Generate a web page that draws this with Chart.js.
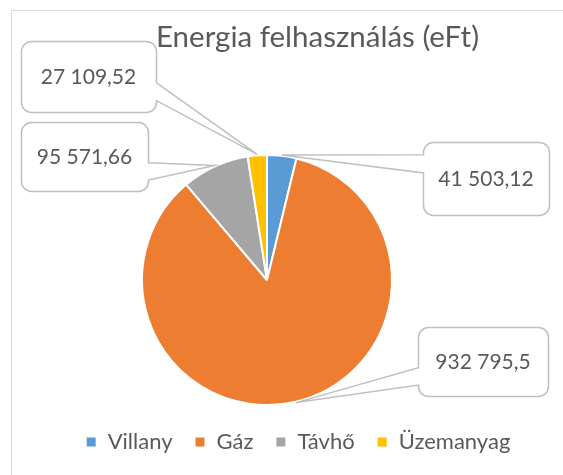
<!DOCTYPE html>
<html>
<head>
<meta charset="utf-8">
<script src="https://cdn.jsdelivr.net/npm/chart.js@4"></script>
<style>
  html, body { margin: 0; padding: 0; background: #fff; overflow: hidden; }
</style>
</head>
<body>
<canvas id="energia" width="563" height="475"></canvas>
<script>
const chartTitle = 'Energia felhasználás (eFt)';
const categories = ['Villany', 'Gáz', 'Távhő', 'Üzemanyag'];
const values = [41503.12, 932795.5, 95571.66, 27109.52];
const colors = ['#5B9BD5', '#ED7D31', '#A5A5A5', '#FFC000'];

// label boxes (Excel callouts moved by hand), x/y/w/h in px
const calloutBoxes = [
  [423, 142, 126, 73],
  [418, 327, 130, 69],
  [21, 122, 127, 69],
  [21, 41, 135, 71],
];

const FONT = 'Lato';
const textColor = '#595959';

function fmtHu(v) {
  const parts = String(v).split('.');
  const intPart = parts[0].replace(/\B(?=(\d{3})+(?!\d))/g, ' ');
  return parts.length > 1 ? intPart + ',' + parts[1] : intPart;
}

const frame = {
  id: 'frame',
  beforeDraw(chart) {
    const ctx = chart.ctx;
    ctx.save();
    ctx.strokeStyle = '#D9D9D9';
    ctx.lineWidth = 1;
    ctx.beginPath();
    ctx.moveTo(11.5, 480);
    ctx.lineTo(11.5, 10.5);
    ctx.lineTo(570, 10.5);
    ctx.stroke();
    ctx.fillStyle = textColor;
    ctx.font = '29.5px ' + FONT;
    ctx.textAlign = 'center';
    ctx.textBaseline = 'middle';
    ctx.fillText(chartTitle, 317.5, 37);
    ctx.restore();
  },
  afterLayout(chart) {
    // Excel puts the legend a bit right of (and below) the pie
    chart.legend.left += 31;
    chart.legend.right += 31;
    chart.legend.top += 3;
    chart.legend.bottom += 3;
  },
};

function roundRectCallout(ctx, x, y, w, h, r, tx, ty) {
  const cy = y + h / 2;
  const side = tx > x + w ? 'right' : (tx < x ? 'left' : null);
  const b1 = ty > cy ? y + h * 7 / 12 : y + h * 2 / 12;
  const b2 = ty > cy ? y + h * 10 / 12 : y + h * 5 / 12;
  ctx.beginPath();
  ctx.moveTo(x + r, y);
  ctx.lineTo(x + w - r, y);
  ctx.arcTo(x + w, y, x + w, y + r, r);
  if (side === 'right') {
    ctx.lineTo(x + w, b1);
    ctx.lineTo(tx, ty);
    ctx.lineTo(x + w, b2);
  }
  ctx.lineTo(x + w, y + h - r);
  ctx.arcTo(x + w, y + h, x + w - r, y + h, r);
  ctx.lineTo(x + r, y + h);
  ctx.arcTo(x, y + h, x, y + h - r, r);
  if (side === 'left') {
    ctx.lineTo(x, b2);
    ctx.lineTo(tx, ty);
    ctx.lineTo(x, b1);
  }
  ctx.lineTo(x, y + r);
  ctx.arcTo(x, y, x + r, y, r);
  ctx.closePath();
}

const callouts = {
  id: 'callouts',
  afterDatasetsDraw(chart) {
    const ctx = chart.ctx;
    const arcs = chart.getDatasetMeta(0).data;
    ctx.save();
    arcs.forEach((arc, i) => {
      const p = arc.getProps(['x', 'y', 'startAngle', 'endAngle', 'outerRadius'], true);
      const mid = (p.startAngle + p.endAngle) / 2;
      const tx = p.x + Math.cos(mid) * (p.outerRadius + 1);
      const ty = p.y + Math.sin(mid) * (p.outerRadius + 1);
      const b = calloutBoxes[i];
      roundRectCallout(ctx, b[0] + 0.5, b[1] + 0.5, b[2], b[3], 10, tx, ty);
      ctx.fillStyle = '#fff';
      ctx.fill();
      ctx.strokeStyle = '#BFBFBF';
      ctx.lineWidth = 1.5;
      ctx.stroke();
      ctx.fillStyle = textColor;
      ctx.font = '21px ' + FONT;
      ctx.textAlign = 'center';
      ctx.textBaseline = 'middle';
      ctx.fillText(fmtHu(values[i]), b[0] + b[2] / 2, b[1] + b[3] / 2 + 1);
    });
    ctx.restore();
  },
};

var ctx0 = document.getElementById('energia').getContext('2d');
var chart0 = new Chart(ctx0, {
  type: 'pie',
  data: {
    labels: categories,
    datasets: [
      {
        data: values,
        backgroundColor: colors,
        borderColor: '#ffffff',
        borderWidth: 2,
      },
    ],
  },
  options: {
    responsive: false,
    animation: false,
    events: [],
    radius: 125,
    layout: {
      padding: { left: 0, right: 29, top: 154, bottom: 15 },
    },
    plugins: {
      title: { display: false },
      tooltip: { enabled: false },
      legend: {
        position: 'bottom',
        labels: {
          color: textColor,
          font: { family: FONT, size: 22 },
          boxWidth: 11,
          boxHeight: 11,
          padding: 22,
        },
      },
    },
  },
  plugins: [frame, callouts],
});
</script>
</body>
</html>
